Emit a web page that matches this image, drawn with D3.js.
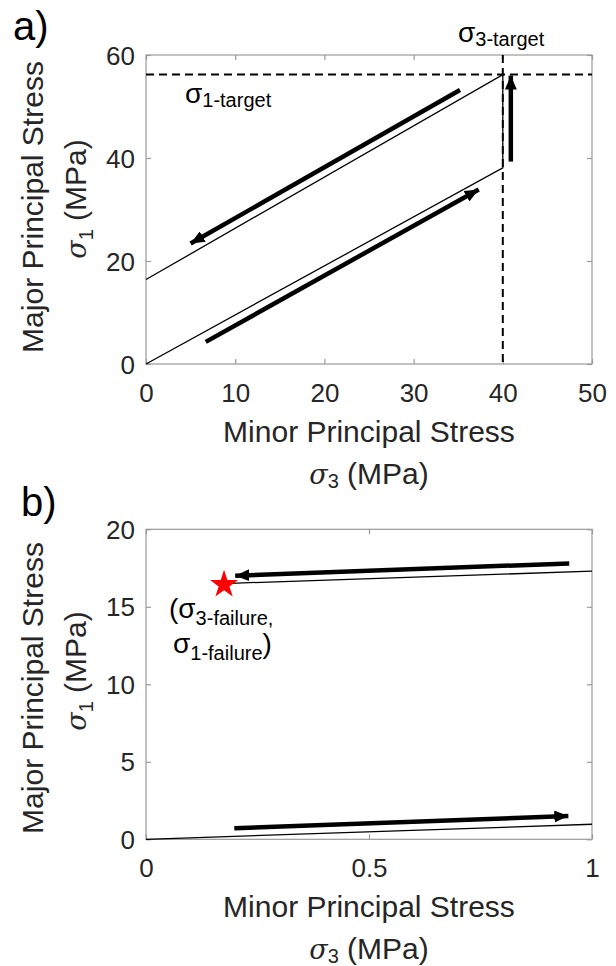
<!DOCTYPE html>
<html>
<head>
<meta charset="utf-8">
<script src="https://cdn.jsdelivr.net/npm/d3@7"></script>
<style>
  html, body { margin: 0; padding: 0; background: #fff; }
  svg { display: block; }
  text { font-family: "Liberation Sans", Arial, Helvetica, sans-serif; }
</style>
</head>
<body>
<div id="chart"></div>
<script>
// ---------- Data ----------
// Panel a)
const xTicksA = [0, 10, 20, 30, 40, 50];
const yTicksA = [0, 20, 40, 60];
const xDomainA = [0, 50];
const yDomainA = [0, 60];
const sigma3Target = 40;
const sigma1Target = 56.2;
// stress path: load up, raise sigma1 at constant sigma3, unload
const pathA = [[0, 0], [40, 38.1], [40, 56.2], [0, 16.4]];
const arrowsA = [
  { x1: 6.7, y1: 4.3, x2: 37.3, y2: 33.9 },
  { x1: 35.2, y1: 53.2, x2: 5.0, y2: 23.4 },
  { x1: 40.9, y1: 39.3, x2: 40.9, y2: 56.0 }
];

// Panel b)
const xTicksB = [0, 0.5, 1];
const xTickLabelsB = ["0", "0.5", "1"];
const yTicksB = [0, 5, 10, 15, 20];
const xDomainB = [0, 1];
const yDomainB = [0, 20];
const loadingB = [[0, 0], [1, 0.97]];
const unloadingB = [[0.175, 16.5], [1, 17.3]];
const failurePoint = [0.175, 16.43];
const arrowsB = [
  { x1: 0.949, y1: 17.8, x2: 0.2, y2: 17.0 },
  { x1: 0.198, y1: 0.71, x2: 0.947, y2: 1.5 }
];

// ---------- Drawing ----------
const W = 616, H = 966;
const svg = d3.select("#chart").append("svg").attr("width", W).attr("height", H);

const defs = svg.append("defs");
defs.append("marker")
  .attr("id", "head")
  .attr("viewBox", "0 0 14 12")
  .attr("refX", 14).attr("refY", 6)
  .attr("markerWidth", 14).attr("markerHeight", 12)
  .attr("markerUnits", "userSpaceOnUse")
  .attr("orient", "auto")
  .append("path").attr("d", "M0,0 L14,6 L0,12 Z").attr("fill", "#000");

const TICK_COLOR = "#262626";
const BOX_COLOR = "#9a9a9a";

function panel(opts) {
  const { x, y, xTicks, yTicks, xFmt, xPad } = opts;
  const g = svg.append("g");
  const [x0, x1] = x.range();
  const [y0, y1] = y.range();
  g.append("rect").attr("x", x0).attr("y", y1).attr("width", x1 - x0).attr("height", y0 - y1)
    .attr("fill", "none").attr("stroke", BOX_COLOR).attr("stroke-width", 1.2);
  const tl = 5;
  const xAxis = d3.axisBottom(x).tickValues(xTicks).tickSizeInner(-tl).tickSizeOuter(0).tickPadding(xPad)
    .tickFormat(xFmt || d3.format("d"));
  const gx = g.append("g").attr("transform", `translate(0,${y0})`).call(xAxis);
  const yAxis = d3.axisLeft(y).tickValues(yTicks).tickSizeInner(-tl).tickSizeOuter(0).tickPadding(11)
    .tickFormat(d3.format("d"));
  const gy = g.append("g").attr("transform", `translate(${x0},0)`).call(yAxis);
  const gxt = g.append("g").attr("transform", `translate(0,${y1})`)
    .call(d3.axisTop(x).tickValues(xTicks).tickSizeInner(-tl).tickSizeOuter(0).tickFormat(""));
  const gyr = g.append("g").attr("transform", `translate(${x1},0)`)
    .call(d3.axisRight(y).tickValues(yTicks).tickSizeInner(-tl).tickSizeOuter(0).tickFormat(""));
  [gx, gy, gxt, gyr].forEach(a => {
    a.select(".domain").remove();
    a.selectAll(".tick line").attr("stroke", BOX_COLOR).attr("stroke-width", 1.2);
    a.selectAll(".tick text").attr("fill", TICK_COLOR)
      .style("font-size", "26px").style("font-family", "'Liberation Sans', Arial, sans-serif");
  });
  gx.selectAll(".tick text").attr("dy", "0.71em");
  gy.selectAll(".tick text").attr("dy", "0.35em");
  return g;
}

function xLabel(cx, baseY, subNum) {
  svg.append("text").attr("x", cx).attr("y", baseY).attr("text-anchor", "middle")
    .attr("fill", TICK_COLOR).style("font-size", "30px").text("Minor Principal Stress");
  const t = svg.append("text").attr("x", cx).attr("y", baseY + 42).attr("text-anchor", "middle")
    .attr("fill", TICK_COLOR).style("font-size", "30px");
  t.append("tspan").style("font-style", "italic").style("font-family", "'DejaVu Serif', serif")
    .style("font-size", "27px").text("σ");
  t.append("tspan").attr("dy", 4).style("font-size", "20px").text(subNum);
  t.append("tspan").attr("dy", -4).text(" (MPa)");
}

function yLabel(bx1, c1, bx2, c2, subNum) {
  svg.append("text").attr("transform", `translate(${bx1},${c1}) rotate(-90)`).attr("text-anchor", "middle")
    .attr("fill", TICK_COLOR).style("font-size", "30px").text("Major Principal Stress");
  const t = svg.append("text").attr("transform", `translate(${bx2},${c2}) rotate(-90)`).attr("text-anchor", "middle")
    .attr("fill", TICK_COLOR).style("font-size", "30px");
  t.append("tspan").style("font-style", "italic").style("font-family", "'DejaVu Serif', serif")
    .style("font-size", "27px").text("σ");
  t.append("tspan").attr("dy", 7).style("font-size", "20px").text(subNum);
  t.append("tspan").attr("dy", -7).text(" (MPa)");
}

function subText(x, y, main, sub, after, sizeMain, sizeSub, shift) {
  const t = svg.append("text").attr("x", x).attr("y", y).attr("fill", "#000").style("font-size", sizeMain + "px");
  t.append("tspan").text(main);
  t.append("tspan").attr("dy", shift).style("font-size", sizeSub + "px").text(sub);
  if (after) t.append("tspan").attr("dy", -shift).text(after);
  return t;
}

const line = (sx, sy) => d3.line().x(d => sx(d[0])).y(d => sy(d[1]));

function drawArrows(g, arr, sx, sy) {
  g.selectAll(null).data(arr).enter().append("line")
    .attr("x1", d => sx(d.x1)).attr("y1", d => sy(d.y1))
    .attr("x2", d => sx(d.x2)).attr("y2", d => sy(d.y2))
    .attr("stroke", "#000").attr("stroke-width", 4.5)
    .attr("marker-end", "url(#head)");
}

// ----- Panel a -----
const xA = d3.scaleLinear().domain(xDomainA).range([146, 592]);
const yA = d3.scaleLinear().domain(yDomainA).range([364, 55]);
const gA = panel({ x: xA, y: yA, xTicks: xTicksA, yTicks: yTicksA, xPad: 20 });

gA.append("line").attr("x1", xA(xDomainA[0])).attr("x2", xA(xDomainA[1]))
  .attr("y1", yA(sigma1Target)).attr("y2", yA(sigma1Target))
  .attr("stroke", "#000").attr("stroke-width", 2).attr("stroke-dasharray", "8,5");
gA.append("line").attr("x1", xA(sigma3Target)).attr("x2", xA(sigma3Target))
  .attr("y1", yA(yDomainA[1])).attr("y2", yA(yDomainA[0]))
  .attr("stroke", "#000").attr("stroke-width", 2).attr("stroke-dasharray", "8,5");
gA.append("path").attr("d", line(xA, yA)(pathA)).attr("fill", "none")
  .attr("stroke", "#000").attr("stroke-width", 1.3);
drawArrows(gA, arrowsA, xA, yA);

subText(458, 42, "σ", "3-target", null, 28, 20, 4);
subText(185, 103, "σ", "1-target", null, 28, 20, 4);

svg.append("text").attr("x", 13).attr("y", 40).attr("fill", "#000").style("font-size", "40px").text("a)");
xLabel(369, 442, "3");
yLabel(43, 207, 86, 199, "1");

// ----- Panel b -----
const xB = d3.scaleLinear().domain(xDomainB).range([146, 592]);
const yB = d3.scaleLinear().domain(yDomainB).range([839.3, 529.3]);
const gB = panel({ x: xB, y: yB, xTicks: xTicksB, yTicks: yTicksB, xPad: 19.5, xFmt: (d, i) => xTickLabelsB[i] });

gB.append("path").attr("d", line(xB, yB)(loadingB)).attr("fill", "none")
  .attr("stroke", "#000").attr("stroke-width", 1.3);
gB.append("path").attr("d", line(xB, yB)(unloadingB)).attr("fill", "none")
  .attr("stroke", "#000").attr("stroke-width", 1.3);
drawArrows(gB, arrowsB, xB, yB);
gB.append("path").attr("d", d3.symbol().type(d3.symbolStar).size(245)())
  .attr("transform", `translate(${xB(failurePoint[0])},${yB(failurePoint[1])})`)
  .attr("fill", "#ff0000");

subText(169, 618, "(σ", "3-failure,", null, 28, 20, 7);
subText(173, 653, "σ", "1-failure", ")", 28, 20, 7);

svg.append("text").attr("x", 21).attr("y", 516).attr("fill", "#000").style("font-size", "40px").text("b)");
xLabel(369, 917, "3");
yLabel(43, 688, 86, 671, "1");
</script>
</body>
</html>
